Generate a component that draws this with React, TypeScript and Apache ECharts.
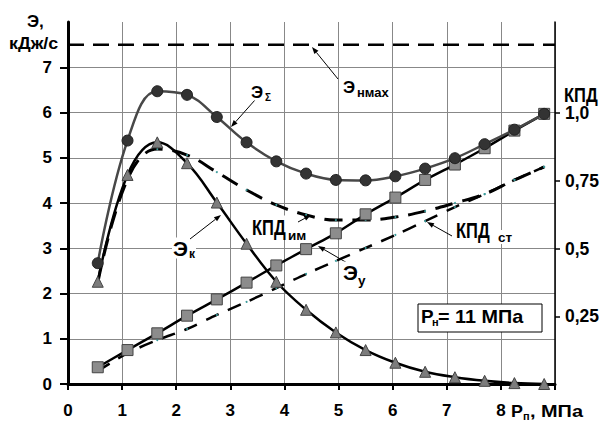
import React, { useEffect, useRef } from 'react';
import * as echarts from 'echarts';

// Pressure Pп, MPa (measurement points)
const P_PTS = [0.55, 1.1, 1.65, 2.2, 2.75, 3.3, 3.85, 4.4, 4.95, 5.5, 6.05, 6.6, 7.15, 7.7, 8.25, 8.8];
// Э_Σ, kJ/s
const E_SUM = [2.67, 5.38, 6.47, 6.39, 5.9, 5.34, 4.92, 4.65, 4.51, 4.5, 4.59, 4.76, 4.99, 5.3, 5.62, 5.97];
// Э_к, kJ/s
const E_K = [2.26, 4.62, 5.34, 4.88, 4.01, 3.1, 2.26, 1.64, 1.14, 0.75, 0.47, 0.27, 0.15, 0.07, 0.02, 0.0];
// Э_у, kJ/s
const E_U = [0.37, 0.75, 1.12, 1.51, 1.87, 2.24, 2.62, 2.98, 3.33, 3.75, 4.12, 4.51, 4.85, 5.21, 5.6, 5.97];
// КПД_им (right axis)
const KPD_IM = [0.373, 0.756, 0.867, 0.845, 0.782, 0.716, 0.661, 0.624, 0.605, 0.605, 0.616, 0.638, 0.668, 0.701, 0.753, 0.801];
// КПД_ст (right axis)
const KPD_ST = [0.048, 0.114, 0.162, 0.203, 0.255, 0.303, 0.354, 0.406, 0.454, 0.502, 0.55, 0.601, 0.653, 0.701, 0.753, 0.801];
// Э_нмах level
const E_NMAX = 7.5;
const X_RANGE = [0, 9];
const LEFT_TICKS = [0, 1, 2, 3, 4, 5, 6, 7];
const RIGHT_TICKS = [0.25, 0.5, 0.75, 1.0];

const FF = '"Liberation Sans", Arial, sans-serif';
const fnt = (s: number) => `bold ${s}px ${FF}`;

const pairs = (ys: number[]) => P_PTS.map((x, i) => [x, ys[i]]);

function arrow(x1: number, y1: number, x2: number, y2: number): any[] {
  const ang = Math.atan2(y2 - y1, x2 - x1);
  const L = 7, W = 2.6;
  const bx = x2 - L * Math.cos(ang), by = y2 - L * Math.sin(ang);
  const px = -Math.sin(ang) * W, py = Math.cos(ang) * W;
  return [
    { type: 'line', z: 100, shape: { x1, y1, x2: bx, y2: by }, style: { stroke: '#000', lineWidth: 1 } },
    { type: 'polygon', z: 100, shape: { points: [[x2, y2], [bx + px, by + py], [bx - px, by - py]] }, style: { fill: '#000' } },
  ];
}

function txt(x: number, y: number, text: string, size: number, sx = 1, sy = 1, bg = false): any {
  return {
    type: 'text', z: 101, x, y, scaleX: sx, scaleY: sy,
    style: { text, font: fnt(size), fill: '#000', verticalAlign: 'middle', align: 'left',
      backgroundColor: bg ? '#fff' : undefined, padding: bg ? [0, 1] : 0 },
  };
}

export default function App() {
  const ref = useRef<HTMLDivElement>(null);
  useEffect(() => {
    if (!ref.current) return;
    const chart = echarts.init(ref.current, null, { renderer: 'svg' });
    const option: any = {
      animation: false,
      backgroundColor: '#fff',
      grid: { left: 68, right: 49, top: 22, bottom: 37, containLabel: false },
      xAxis: {
        type: 'value', min: X_RANGE[0], max: X_RANGE[1], interval: 1,
        axisLine: { show: true, onZero: false, lineStyle: { color: '#000', width: 3 } },
        axisTick: { show: true, length: 6, lineStyle: { color: '#000', width: 2 } },
        axisLabel: { margin: 18, color: '#000', fontSize: 17, fontWeight: 'bold', fontFamily: FF,
          formatter: (v: number) => (v <= 8 ? String(v) : '') },
        splitLine: { show: true, lineStyle: { color: '#888', width: 1 } },
      },
      yAxis: [
        {
          type: 'value', min: 0, max: 8, interval: 1, position: 'left',
          axisLine: { show: true, onZero: false, lineStyle: { color: '#000', width: 3 } },
          axisTick: { show: true, length: 8, lineStyle: { color: '#000', width: 2 }, customValues: LEFT_TICKS },
          axisLabel: { margin: 16, color: '#000', fontSize: 17, fontWeight: 'bold', fontFamily: FF,
            customValues: LEFT_TICKS, formatter: (v: number) => String(v) },
          splitLine: { show: true, lineStyle: { color: '#888', width: 1 } },
        },
        {
          type: 'value', min: 0, max: 1.336, interval: 0.25, position: 'right',
          axisLine: { show: true, onZero: false, lineStyle: { color: '#000', width: 1.5 } },
          axisTick: { show: true, length: 5, lineStyle: { color: '#000', width: 1.5 }, customValues: RIGHT_TICKS },
          axisLabel: { margin: 10, color: '#000', fontSize: 17.5, fontWeight: 'bold', fontFamily: FF,
            customValues: RIGHT_TICKS,
            formatter: (v: number) => (v === 1 ? '1,0' : String(v).replace('.', ',')) },
          splitLine: { show: false },
        },
      ],
      series: [
        {
          name: 'Энмах', type: 'line', yAxisIndex: 0, symbol: 'none',
          data: [[X_RANGE[0], E_NMAX], [X_RANGE[1], E_NMAX]],
          lineStyle: { color: '#000', width: 2.5, type: [16, 9] },
        },
        {
          name: 'КПД ст', type: 'line', yAxisIndex: 1, smooth: 0.3,
          symbol: 'circle', symbolSize: 2, itemStyle: { color: '#3a9a9a' },
          data: pairs(KPD_ST),
          lineStyle: { color: '#000', width: 2.5, type: [14, 10] },
        },
        {
          name: 'КПД им', type: 'line', yAxisIndex: 1, smooth: 0.4,
          symbol: 'circle', symbolSize: 2, itemStyle: { color: '#3a9a9a' },
          data: pairs(KPD_IM),
          lineStyle: { color: '#000', width: 3, type: [18, 10] },
        },
        {
          name: 'Эу', type: 'line', yAxisIndex: 0, smooth: 0.2,
          symbol: 'rect', symbolSize: 11,
          itemStyle: { color: '#8c8c8c', borderColor: '#444', borderWidth: 1 },
          lineStyle: { color: '#000', width: 2.5 },
          data: pairs(E_U),
        },
        {
          name: 'Эк', type: 'line', yAxisIndex: 0, smooth: 0.4,
          symbol: 'triangle', symbolSize: 11,
          itemStyle: { color: '#7c7c7c', borderColor: '#444', borderWidth: 1 },
          lineStyle: { color: '#000', width: 2.5 },
          data: pairs(E_K),
        },
        {
          name: 'ЭΣ', type: 'line', yAxisIndex: 0, smooth: 0.4,
          symbol: 'circle', symbolSize: 11,
          itemStyle: { color: '#333', borderColor: '#222', borderWidth: 1 },
          lineStyle: { color: '#484848', width: 2.5 },
          data: pairs(E_SUM),
        },
      ],
      graphic: [
        // axis titles
        txt(27, 21, 'Э,', 17),
        txt(9, 43, 'кДж/с', 17, 1.05, 1),
        txt(564, 95, 'КПД', 16.5, 1, 1.28),
        txt(511, 411, 'P', 17, 1.05, 1),
        txt(523, 416, 'п', 11),
        txt(530, 411, ', МПа', 17, 1.17, 1),
        // annotations
        txt(342, 87, 'Э', 17, 1, 1, true),
        txt(356, 92, 'нмах', 13, 1, 1, true),
        ...arrow(338, 79, 312, 47),
        txt(250, 92, 'Э', 17, 1, 1, true),
        txt(264, 97, 'Σ', 10, 1, 1, true),
        ...arrow(255, 100, 231, 127),
        txt(172, 248, 'Э', 21, 1, 1, true),
        txt(188, 254, 'к', 12, 1, 1, true),
        ...arrow(190, 239, 221, 215),
        txt(251, 227, 'КПД', 16.5, 1, 1.35, true),
        txt(287, 235, 'им', 13.5, 1, 1, true),
        ...arrow(298, 222, 311, 215),
        txt(342, 272, 'Э', 21, 1, 1, true),
        txt(357, 280, 'у', 13.5, 1, 1, true),
        ...arrow(349, 264, 318, 246),
        txt(455, 230, 'КПД', 16.5, 1, 1.35, true),
        txt(497, 237, 'ст', 13.5, 1, 1, true),
        ...arrow(452, 236, 427, 222),
        // box
        { type: 'rect', z: 100, shape: { x: 418, y: 304, width: 124, height: 28 }, style: { fill: '#fff', stroke: '#000', lineWidth: 1 } },
        txt(421, 317, 'P', 18, 1.05, 1),
        txt(432, 322, 'н', 11),
        txt(438, 317, '= 11 МПа', 18, 1.1, 1),
      ],
    };
    chart.setOption(option);
    return () => chart.dispose();
  }, []);
  return <div ref={ref} style={{ position: 'fixed', left: 0, top: 0, width: 604, height: 421 }} />;
}
